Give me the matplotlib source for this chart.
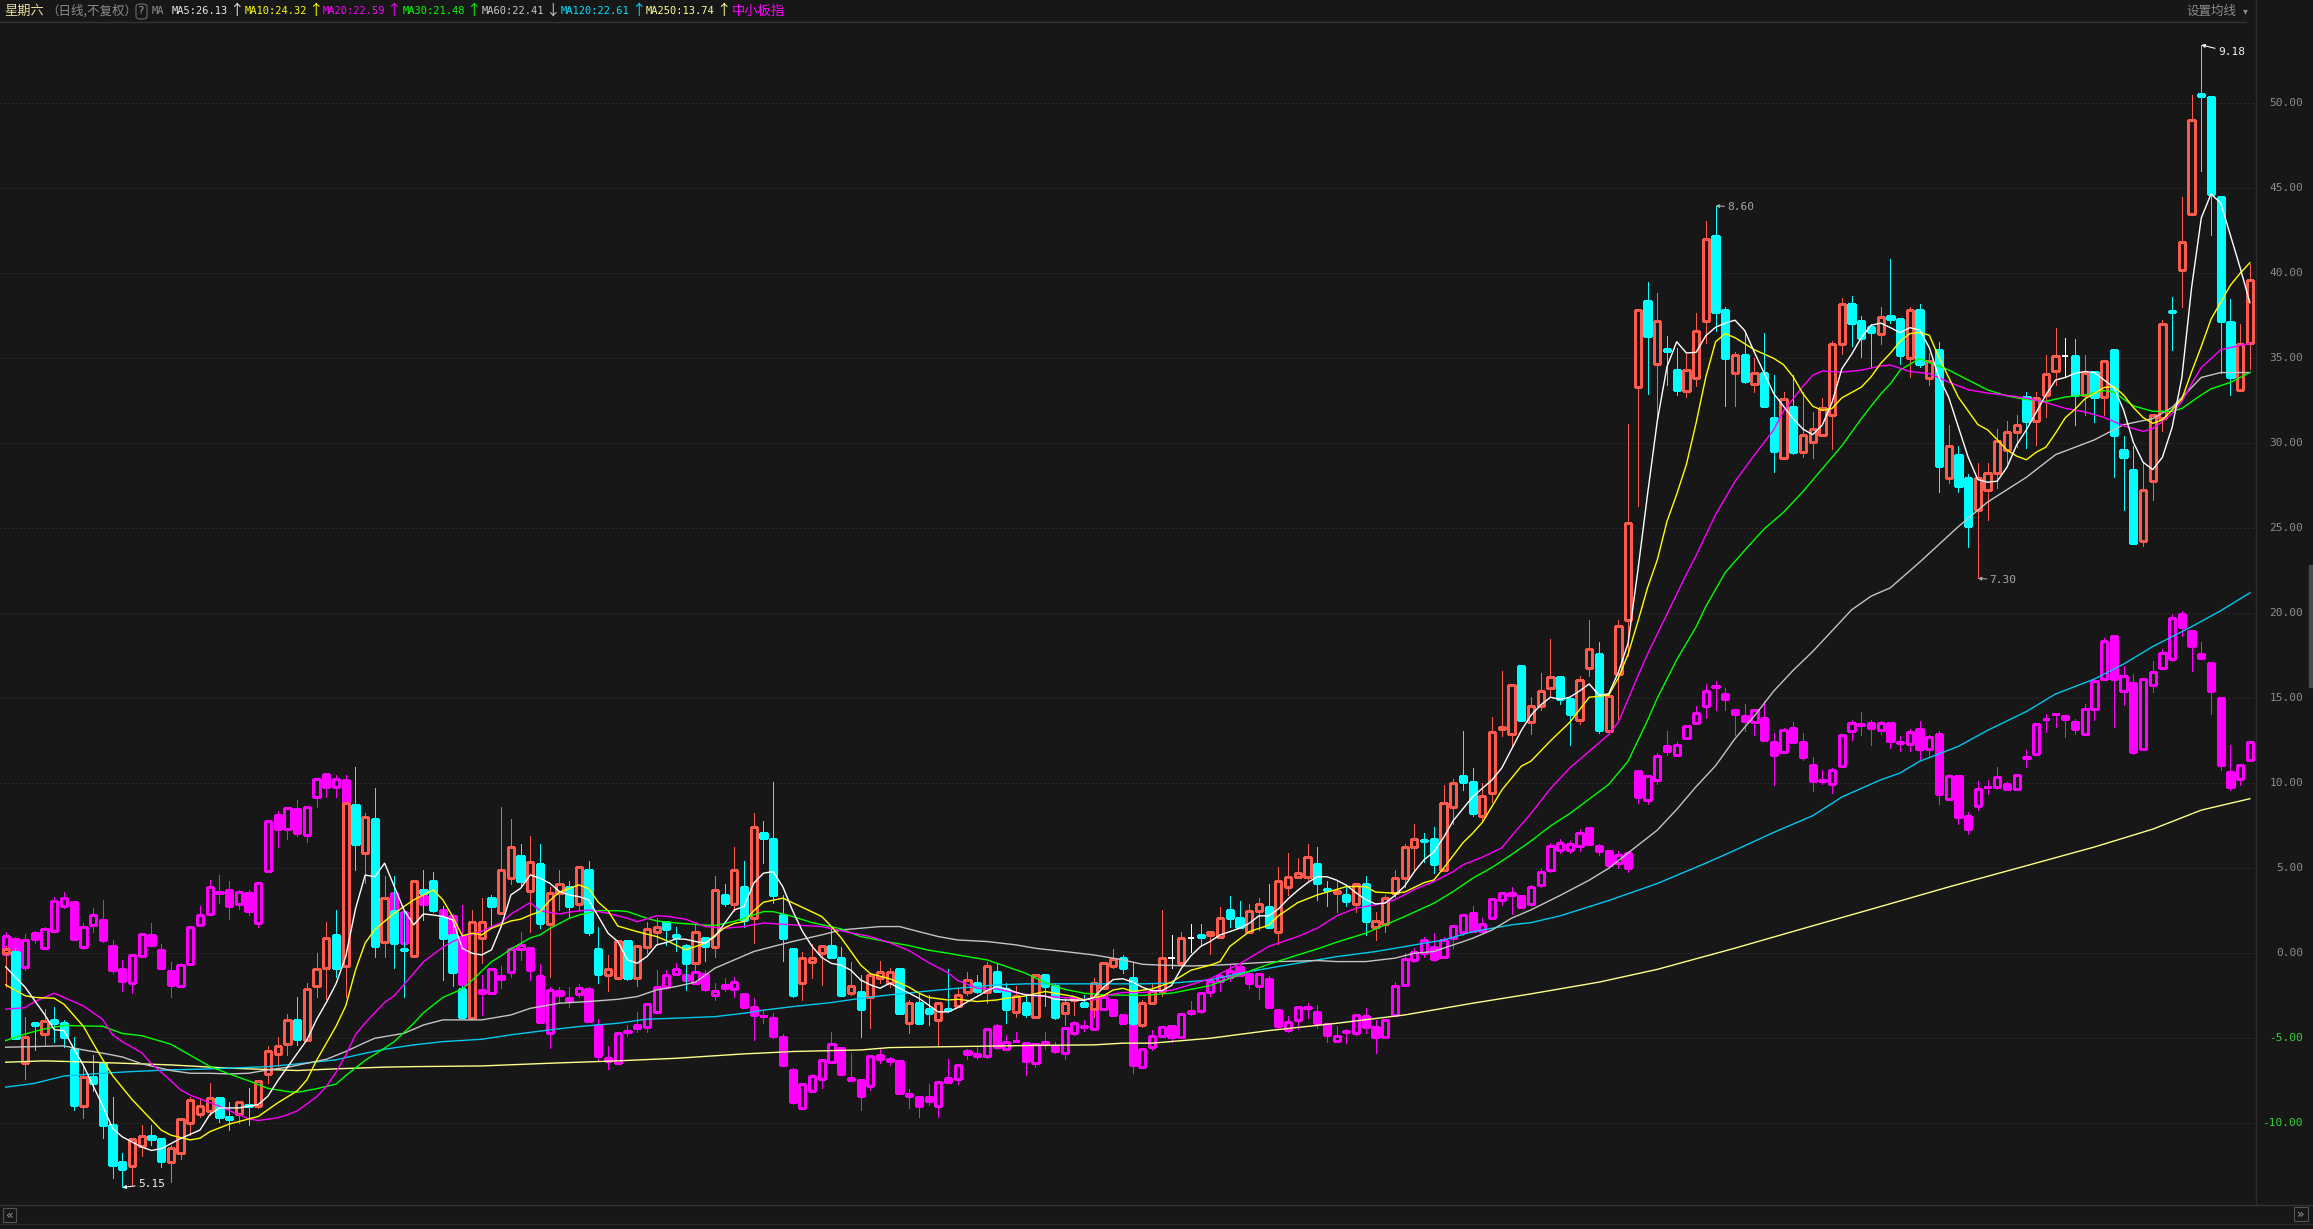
import numpy as np
import matplotlib
matplotlib.use('Agg')
import matplotlib.pyplot as plt
from matplotlib.patches import Rectangle, FancyBboxPatch
from matplotlib.transforms import blended_transform_factory

# ---- main stock, % change vs. base day ----
main_o = [0.0, 0.1, -6.47, -4.12, -4.78, -3.92, -4.12, -5.63, -8.96, -7.29,
          -6.43, -10.1, -12.29, -12.49, -11.33, -10.75, -10.92, -12.29, -11.76, -9.96,
          -9.47, -9.27, -8.49, -9.65, -9.47, -8.92, -8.96, -7.12, -5.94, -5.31,
          -3.92, -5.1, -1.92, -0.88, 1.08, -0.78, 8.73, 5.88, 7.88, 0.69,
          2.5, 0.24, -0.14, 3.73, 4.27, 2.06, 1.08, -2.12, -3.82, 0.88,
          3.24, 2.39, 4.41, 5.73, 3.69, 5.25, 1.73, 3.53, 3.88, 2.88,
          4.9, 0.24, -1.27, -1.47, 0.73, -1.47, 0.39, 1.22, 1.86, 1.08,
          0.43, -0.59, 0.88, 0.39, 3.43, 2.88, 3.88, 2.06, 7.06, 6.71,
          2.25, 0.24, -1.76, -0.49, 0.04, 0.43, -0.29, -2.31, -2.27, -2.59,
          -1.43, -1.76, -0.94, -4.12, -2.94, -3.27, -3.92, -3.29, -3.1, -2.29,
          -1.73, -2.29, -1.12, -2.12, -3.47, -2.9, -3.76, -1.27, -1.92, -3.49,
          -2.75, -2.9, -3.29, -2.06, -0.75, -0.29, -1.47, -4.22, -2.94, -2.25,
          -0.29, -0.59, 0.88, 1.08, 1.08, 0.98, 2.55, 2.06, 1.22, 2.51,
          2.71, 1.22, 3.88, 4.51, 4.51, 5.24, 3.78, 3.53, 3.43, 2.88,
          4.08, 1.53, 1.73, 3.53, 4.41, 6.22, 6.64, 6.71, 4.9, 8.59,
          10.43, 10.06, 8.08, 9.41, 13.2, 12.88, 16.9, 13.59, 14.57, 15.6,
          16.23, 14.94, 13.72, 16.77, 17.63, 13.06, 16.41, 19.58, 33.28, 38.34,
          34.67, 35.52, 34.3, 33.1, 33.84, 37.19, 42.2, 37.85, 34.13, 35.18,
          33.47, 34.13, 31.49, 29.12, 32.13, 29.49, 30.1, 30.46, 31.69, 35.84,
          38.17, 37.19, 36.82, 36.45, 37.51, 37.3, 34.99, 37.83, 33.81, 35.48,
          27.95, 29.33, 27.95, 26.1, 27.27, 28.24, 29.62, 30.65, 32.7, 31.29,
          32.84, 34.25, 35.13, 35.13, 32.84, 34.22, 32.7, 35.48, 29.62, 28.45,
          24.25, 27.77, 31.47, 37.78, 40.18, 43.49, 50.55, 50.38, 44.49, 37.16,
          33.14, 35.87]
main_c = [0.24, -5.0, -4.94, -4.2, -3.96, -4.08, -4.9, -8.92, -7.29, -7.61,
          -10.1, -12.45, -12.71, -10.92, -10.75, -10.9, -12.25, -11.47, -9.76, -8.63,
          -8.96, -8.49, -9.61, -9.73, -8.76, -8.96, -7.49, -5.76, -5.45, -3.92,
          -5.06, -2.12, -0.94, 0.88, -0.88, 8.86, 6.43, 8.04, 0.45, 3.24,
          0.59, 0.2, 4.22, 3.57, 2.55, 0.92, -1.08, -3.73, 1.86, 1.86,
          2.75, 4.9, 6.24, 4.27, 5.39, 1.76, 3.53, 4.06, 2.75, 5.06,
          1.27, -1.24, -0.94, 0.73, -1.47, 0.43, 1.41, 1.53, 1.43, 0.94,
          -0.55, 1.24, 0.43, 3.73, 2.94, 4.9, 1.96, 7.41, 6.76, 3.43,
          0.92, -2.45, -0.29, -0.29, 0.43, -0.25, -2.45, -1.92, -3.27, -1.27,
          -1.12, -1.12, -3.53, -2.94, -4.08, -3.53, -2.94, -3.33, -2.45, -1.57,
          -2.2, -0.78, -2.25, -3.27, -2.51, -3.57, -1.27, -1.9, -3.73, -2.94,
          -2.65, -3.1, -1.76, -0.59, -0.33, -0.88, -4.12, -2.94, -2.25, -0.29,
          -0.29, 0.88, 0.88, 0.94, 1.22, 2.06, 2.1, 1.57, 2.51, 2.88,
          1.57, 4.22, 4.51, 4.71, 5.69, 4.12, 3.7, 3.69, 3.1, 4.08,
          1.92, 1.9, 3.24, 4.41, 6.22, 6.71, 6.58, 5.25, 8.86, 10.04,
          10.1, 8.27, 9.25, 13.04, 13.28, 15.75, 13.74, 14.57, 15.43, 16.23,
          14.94, 14.08, 16.09, 17.92, 13.11, 15.11, 19.27, 25.28, 37.85, 36.33,
          37.19, 35.45, 33.15, 34.3, 36.63, 42.03, 37.73, 35.04, 35.18, 33.69,
          34.13, 32.18, 29.54, 32.62, 29.49, 30.46, 30.83, 32.05, 35.84, 38.17,
          37.07, 36.21, 36.53, 37.43, 37.31, 35.19, 37.83, 34.69, 34.81, 28.68,
          29.82, 27.48, 25.13, 27.95, 28.24, 30.12, 30.65, 31.09, 31.32, 32.64,
          34.1, 35.13, 35.13, 32.84, 34.16, 32.7, 34.81, 30.5, 29.18, 24.13,
          27.27, 31.67, 37.04, 37.7, 41.85, 49.03, 50.45, 44.66, 37.18, 33.87,
          35.84, 39.59]
main_h = [0.4, 0.3, -3.76, -4.12, -3.29, -3.14, -3.92, -4.94, -6.63, -5.98,
          -6.27, -8.47, -11.76, -10.92, -10.1, -10.1, -10.92, -11.27, -9.76, -8.47,
          -8.53, -7.65, -8.43, -8.76, -8.73, -7.94, -7.49, -5.45, -4.9, -3.57,
          -2.59, -1.73, 0.04, 1.86, 2.55, 8.86, 10.94, 8.24, 9.71, 4.55,
          4.55, 2.55, 4.22, 4.9, 4.75, 2.75, 1.76, -1.9, 2.55, 3.24,
          3.43, 8.63, 7.9, 6.43, 6.9, 6.43, 3.92, 4.9, 4.27, 5.06,
          5.43, 1.57, -0.1, 0.73, 0.73, 0.43, 1.86, 2.06, 1.86, 1.57,
          0.55, 1.76, 0.88, 4.55, 4.08, 6.24, 5.45, 8.27, 7.75, 10.1,
          3.43, 0.24, 0.1, 0.53, 0.43, 1.57, 0.39, -0.49, -1.27, -1.27,
          -0.45, -0.88, -0.94, -2.75, -2.35, -2.45, -2.94, -0.94, -2.06, -1.12,
          -1.27, -0.49, -0.59, -1.76, -1.92, -2.45, -1.27, -1.27, -1.76, -2.65,
          -2.55, -2.45, -1.47, -0.59, 0.25, -0.1, -0.55, -2.75, -1.76, 2.55,
          1.08, 1.22, 1.73, 1.73, 1.22, 2.71, 3.39, 3.08, 2.88, 3.24,
          4.08, 5.06, 5.88, 5.59, 6.43, 6.24, 4.22, 4.22, 3.92, 4.08,
          4.55, 2.43, 3.43, 4.9, 6.43, 7.61, 7.06, 7.41, 9.9, 10.24,
          13.08, 10.88, 10.04, 13.88, 16.61, 15.75, 16.9, 15.06, 16.48, 18.48,
          16.23, 14.94, 16.28, 19.63, 18.29, 15.11, 19.63, 31.12, 37.85, 39.51,
          38.83, 36.33, 35.6, 35.23, 37.68, 43.06, 43.96, 38.0, 35.35, 36.53,
          34.99, 36.5, 34.01, 33.03, 34.01, 33.03, 31.81, 32.67, 36.04, 38.53,
          38.66, 37.51, 37.02, 37.99, 40.86, 37.3, 38.04, 38.21, 35.28, 35.98,
          31.09, 29.82, 28.21, 28.83, 28.83, 30.85, 31.29, 31.67, 32.99, 32.99,
          35.19, 36.8, 36.22, 36.16, 35.19, 34.22, 34.81, 35.48, 30.41, 29.82,
          28.83, 31.67, 37.24, 38.62, 44.49, 50.5, 53.43, 50.38, 44.49, 38.48,
          37.01, 40.53]
main_l = [-1.96, -5.0, -7.41, -5.69, -5.41, -5.25, -5.53, -9.25, -9.71, -8.08,
          -10.88, -13.24, -13.78, -13.63, -11.92, -11.27, -12.59, -13.43, -12.12, -10.69,
          -9.61, -9.51, -9.9, -10.39, -9.96, -10.1, -9.12, -7.65, -6.63, -5.98,
          -5.39, -5.16, -2.55, -2.71, -1.37, -2.55, 4.9, 4.12, -0.24, -0.24,
          -0.88, -2.55, -0.24, 1.96, 2.45, -1.57, -1.92, -3.8, -3.88, -0.59,
          1.47, 2.3, 4.1, 3.96, 1.27, 1.47, -1.41, 2.55, 2.12, 2.55,
          1.08, -1.73, -2.25, -1.47, -1.57, -1.92, 0.0, 0.49, 0.49, 0.16,
          -2.16, -1.08, -0.45, -0.24, 2.75, 2.51, 1.57, 0.59, 5.29, 2.94,
          -0.45, -2.55, -2.75, -1.47, -1.86, -0.25, -2.45, -2.45, -4.9, -4.41,
          -1.73, -1.96, -3.53, -4.71, -4.08, -4.25, -5.45, -3.43, -3.1, -2.45,
          -2.35, -2.9, -2.25, -4.08, -3.73, -3.73, -3.76, -3.1, -3.88, -4.22,
          -3.63, -3.14, -3.73, -2.12, -0.88, -1.18, -4.2, -4.31, -2.94, -2.51,
          -0.88, -0.59, 0.1, 0.49, -0.06, 0.94, 1.57, 1.57, 1.22, 1.37,
          1.57, 0.55, 3.43, 4.41, 4.31, 3.14, 2.75, 2.45, 2.75, 2.45,
          1.08, 0.75, 1.27, 3.33, 3.92, 4.9, 5.39, 4.71, 4.9, 7.61,
          9.61, 8.08, 7.75, 8.92, 12.75, 12.16, 13.67, 12.91, 14.28, 15.06,
          14.69, 12.25, 13.47, 16.28, 12.98, 12.98, 13.79, 17.51, 26.31, 32.91,
          31.32, 33.4, 32.86, 32.71, 33.35, 35.89, 36.58, 32.18, 32.18, 33.52,
          33.03, 32.18, 28.31, 29.12, 29.36, 29.19, 29.12, 30.42, 29.68, 35.23,
          35.72, 35.06, 34.5, 35.84, 37.07, 34.69, 33.87, 34.46, 33.43, 27.13,
          27.65, 27.13, 23.9, 22.05, 25.51, 27.36, 28.83, 29.77, 29.71, 29.91,
          31.52, 33.43, 33.87, 31.09, 31.67, 31.23, 31.67, 28.0, 26.1, 24.13,
          23.96, 26.69, 30.7, 35.48, 38.04, 43.4, 46.04, 42.23, 34.16, 32.84,
          33.14, 34.37]

# ---- 中小板指 overlay, % change ----
idx_o = [-0.04, 0.82, -0.82, 1.18, 0.33, 1.33, 2.75, 3.0, 0.39, 1.69,
         1.94, 0.43, -0.94, -1.73, -0.14, 1.1, 0.2, -1.04, -1.9, -0.65,
         1.65, 2.29, 3.55, 3.71, 2.88, 3.53, 1.76, 4.86, 8.14, 7.29,
         8.47, 6.94, 9.18, 10.55, 9.76, 10.2, 8.6, 7.0, 7.6, 2.9,
         3.53, 0.59, 2.3, 3.37, 3.0, 2.55, 2.2, 0.98, -1.9, -2.16,
         -2.35, -1.33, -1.08, 0.27, 0.29, -1.33, -4.67, -2.2, -2.8, -2.41,
         -2.12, -4.22, -6.18, -6.47, -4.6, -4.41, -4.35, -3.43, -1.96, -1.22,
         -1.27, -1.73, -1.24, -2.45, -2.04, -2.12, -2.39, -3.18, -3.67, -3.82,
         -4.94, -6.86, -9.12, -8.08, -7.41, -6.37, -5.55, -7.31, -7.45, -7.8,
         -5.98, -6.35, -6.33, -8.39, -8.47, -8.47, -8.98, -7.35, -7.39, -5.94,
         -5.92, -6.02, -4.27, -5.65, -5.16, -5.29, -6.47, -5.35, -5.43, -5.84,
         -4.67, -4.33, -4.47, -3.29, -2.75, -3.63, -4.1, -6.67, -5.53, -4.86,
         -4.27, -4.94, -3.53, -3.37, -2.29, -1.61, -1.41, -0.82, -1.22, -1.9,
         -1.53, -3.33, -4.51, -3.92, -3.22, -3.43, -4.16, -5.14, -4.66, -4.71,
         -3.67, -4.35, -4.9, -3.63, -1.86, -0.39, 0.0, 0.39, -0.2, 0.88,
         1.27, 2.35, 1.33, 2.06, 3.14, 3.57, 3.37, 2.9, 4.0, 4.9,
         6.1, 6.1, 6.3, 7.35, 6.3, 6.0, 5.3, 5.9, 10.71, 9.0,
         10.17, 12.18, 11.69, 12.67, 13.55, 14.57, 15.7, 15.23, 14.33, 13.96,
         13.59, 13.84, 12.42, 11.83, 13.23, 12.42, 11.1, 10.2, 9.93, 11.03,
         13.06, 13.49, 13.55, 13.15, 13.55, 12.42, 12.32, 13.2, 12.02, 12.9,
         9.09, 10.41, 8.1, 8.65, 9.79, 9.77, 9.97, 9.68, 11.54, 11.73,
         13.8, 14.1, 13.93, 13.58, 12.9, 14.37, 16.13, 18.68, 15.4, 15.92,
         12.02, 15.75, 16.8, 17.3, 19.94, 18.97, 17.6, 17.1, 15.04, 10.65,
         10.26, 11.35]
idx_c = [1.02, 0.1, 0.75, 0.84, 1.41, 3.06, 3.25, 0.84, 1.57, 2.24,
         0.75, -0.96, -1.63, -0.12, 1.12, 0.49, -0.84, -1.86, -0.71, 1.53,
         2.24, 3.92, 3.63, 2.8, 3.59, 2.49, 4.12, 7.76, 7.31, 8.53,
         7.06, 8.59, 10.24, 9.76, 10.24, 8.86, 7.0, 7.8, 4.5, 1.5,
         2.45, 2.45, 3.0, 2.9, 3.6, 2.06, 1.08, -1.8, -1.2, -2.31,
         -0.94, -1.49, 0.24, 0.47, -0.98, -4.02, -2.16, -2.45, -2.65, -2.02,
         -3.96, -6.02, -6.31, -4.71, -4.63, -4.22, -3.0, -2.0, -1.27, -0.94,
         -1.57, -1.12, -2.12, -2.22, -1.88, -1.67, -3.14, -3.63, -3.71, -4.86,
         -6.57, -8.78, -7.71, -7.22, -6.27, -5.35, -7.1, -7.45, -8.37, -6.04,
         -6.24, -6.24, -8.2, -8.27, -8.96, -8.67, -7.55, -7.55, -6.57, -5.78,
         -6.04, -4.47, -5.53, -5.24, -5.14, -6.31, -5.35, -5.24, -5.78, -4.41,
         -4.12, -4.29, -3.29, -2.55, -3.63, -4.08, -6.57, -5.65, -4.84, -4.31,
         -4.94, -3.59, -3.39, -2.35, -1.61, -1.33, -1.02, -1.27, -1.73, -1.22,
         -3.18, -4.27, -4.02, -3.18, -3.18, -4.08, -4.8, -4.86, -4.6, -3.63,
         -4.35, -4.9, -3.92, -1.9, -0.35, 0.1, 0.78, -0.35, 0.78, 1.63,
         2.22, 1.33, 1.71, 3.18, 3.53, 3.43, 2.71, 3.9, 4.8, 6.3,
         6.5, 6.4, 7.1, 6.45, 6.0, 5.2, 5.8, 5.0, 9.19, 10.42,
         11.59, 11.88, 12.25, 13.35, 14.13, 15.43, 15.64, 14.94, 14.08, 13.64,
         14.28, 12.57, 11.64, 13.11, 12.42, 11.52, 10.12, 10.15, 10.78, 12.81,
         13.55, 13.45, 13.23, 13.55, 12.5, 12.38, 12.99, 12.02, 12.7, 9.38,
         10.41, 8.0, 7.3, 9.68, 9.75, 10.35, 9.68, 10.47, 11.5, 13.49,
         13.76, 14.06, 13.78, 13.2, 14.37, 16.04, 18.39, 16.13, 16.33, 11.82,
         16.13, 16.57, 17.68, 19.74, 19.21, 18.09, 17.39, 15.45, 11.06, 9.77,
         11.06, 12.4]
idx_h = [1.27, 0.98, 1.14, 1.33, 1.57, 3.33, 3.59, 3.06, 1.76, 2.67,
         3.14, 0.78, -0.39, -0.08, 1.18, 1.8, 0.55, -0.51, -0.59, 1.57,
         2.75, 4.31, 4.61, 4.27, 3.73, 3.73, 4.12, 7.76, 8.39, 8.57,
         9.02, 8.59, 10.24, 10.55, 10.49, 10.49, 8.7, 8.0, 7.9, 3.1,
         3.9, 2.45, 3.2, 3.9, 3.8, 2.7, 2.3, 2.84, -0.9, -1.27,
         -0.9, -0.78, 0.39, 1.27, 0.29, -0.63, -1.96, -1.96, -1.96, -1.8,
         -2.0, -3.88, -5.45, -4.71, -4.22, -3.43, -3.0, -0.98, -0.98, -0.6,
         -1.1, -0.98, -0.98, -1.76, -1.47, -1.37, -2.39, -2.65, -3.33, -3.5,
         -4.75, -6.76, -7.71, -7.1, -6.27, -4.65, -5.55, -5.84, -7.45, -5.98,
         -5.65, -6.08, -6.33, -8.0, -8.47, -7.69, -7.55, -6.24, -6.57, -5.65,
         -5.49, -4.41, -4.18, -4.8, -4.61, -5.29, -5.35, -4.65, -5.24, -4.41,
         -3.96, -3.92, -3.29, -2.55, -2.75, -3.63, -4.1, -5.59, -4.51, -4.31,
         -4.27, -3.59, -2.8, -2.35, -1.61, -1.22, -0.63, -0.69, -1.02, -1.22,
         -1.33, -3.33, -3.69, -3.18, -2.94, -3.04, -4.16, -4.27, -4.47, -3.59,
         -3.24, -3.92, -3.92, -1.67, 0.0, 0.29, 0.98, 1.18, 0.98, 1.63,
         2.22, 2.78, 2.06, 3.24, 3.53, 3.92, 3.37, 4.0, 5.0, 6.5,
         6.7, 6.6, 7.3, 7.4, 6.4, 6.1, 6.0, 6.0, 10.71, 10.5,
         11.76, 13.06, 12.42, 13.4, 14.52, 15.84, 16.04, 15.6, 14.33, 14.69,
         14.28, 14.82, 12.98, 13.23, 13.59, 12.98, 11.52, 10.78, 10.9, 12.81,
         13.72, 14.21, 13.72, 13.64, 13.55, 12.76, 13.2, 13.64, 12.82, 13.05,
         10.56, 10.5, 8.3, 10.12, 10.18, 10.94, 10.1, 10.56, 11.94, 13.55,
         14.08, 14.16, 13.93, 13.78, 14.66, 16.13, 18.56, 18.68, 16.92, 16.42,
         16.22, 17.21, 17.89, 19.94, 20.15, 18.97, 18.33, 17.1, 15.04, 12.23,
         11.06, 12.4]
idx_l = [-0.04, 0.0, -0.98, 0.63, 0.27, 1.27, 2.65, 0.76, 0.27, 1.27,
         0.69, -1.18, -2.25, -2.31, -0.2, 0.43, -0.88, -2.55, -1.92, -0.71,
         1.61, 2.24, 2.94, 2.0, 2.63, 2.25, 1.53, 4.86, 6.24, 6.73,
         6.92, 6.57, 8.63, 9.22, 9.18, 8.7, 6.6, 6.5, 4.0, 0.9,
         2.3, 0.5, 2.0, 1.96, 2.8, 2.0, 1.0, -2.0, -2.5, -3.63,
         -2.4, -2.02, -1.37, -0.39, -1.57, -4.02, -5.59, -2.94, -3.14, -2.55,
         -4.0, -6.27, -6.8, -6.47, -4.86, -4.61, -4.61, -3.53, -2.12, -1.3,
         -1.7, -1.8, -2.25, -2.75, -2.25, -2.55, -3.24, -5.1, -4.08, -4.96,
         -6.63, -8.86, -9.12, -8.16, -7.94, -6.37, -7.16, -7.45, -9.22, -8.04,
         -6.47, -6.59, -8.27, -9.12, -9.65, -8.92, -9.61, -7.61, -7.69, -6.24,
         -6.24, -6.18, -5.61, -5.65, -5.2, -7.16, -6.67, -5.65, -5.84, -6.24,
         -4.8, -4.55, -4.47, -3.33, -3.69, -4.12, -7.06, -6.71, -5.69, -4.94,
         -5.2, -4.94, -3.63, -3.53, -2.49, -2.25, -1.63, -1.33, -2.06, -2.69,
         -3.18, -4.47, -4.61, -4.47, -3.82, -4.41, -5.25, -5.2, -5.29, -4.8,
         -4.67, -5.84, -4.9, -3.63, -1.92, -0.49, -0.2, -0.43, -0.24, 0.29,
         1.08, 1.27, 1.27, 2.0, 2.84, 2.31, 2.65, 2.8, 3.9, 4.8,
         5.9, 5.9, 6.0, 6.4, 5.8, 5.0, 5.0, 4.8, 8.83, 8.8,
         9.93, 11.64, 11.59, 12.62, 13.47, 13.84, 14.33, 14.28, 12.86, 13.06,
         12.81, 12.57, 9.88, 11.76, 12.37, 11.39, 9.56, 9.93, 9.44, 10.95,
         12.57, 12.86, 12.25, 12.91, 12.08, 11.88, 11.88, 11.44, 11.58, 8.8,
         9.0, 7.6, 7.0, 8.4, 9.38, 9.68, 9.6, 9.59, 10.94, 11.64,
         12.99, 13.29, 12.7, 12.9, 12.82, 13.7, 16.13, 13.29, 14.58, 11.73,
         12.02, 15.34, 16.72, 17.21, 18.68, 16.63, 17.3, 14.08, 10.76, 9.59,
         9.88, 11.29]

# ---- moving averages (sample day, value) ----
ma5_day = [0, 2, 4, 5, 6, 7, 8, 10, 11, 12, 14, 15, 16, 18, 20, 21, 22, 24, 26, 27, 28, 30, 31, 32, 33, 34, 35, 36, 37, 38,
           39, 40, 41, 42, 43, 44, 45, 46, 47, 48, 49, 50, 51, 52, 53, 54, 55, 56, 57, 58, 59, 60, 61, 62, 63, 64, 65, 66, 67, 68,
           69, 70, 71, 72, 73, 74, 75, 76, 77, 78, 79, 80, 81, 82, 83, 84, 85, 86, 87, 88, 89, 90, 91, 92, 93, 94, 95, 96, 97, 98,
           99, 100, 101, 102, 103, 104, 105, 106, 107, 108, 109, 110, 111, 112, 113, 114, 115, 116, 117, 118, 119, 120, 121, 122,
           123, 124, 125, 126, 127, 128, 129, 130, 131, 132, 133, 134, 135, 136, 137, 138, 139, 140, 141, 142, 143, 144, 145, 146,
           147, 148, 149, 150, 151, 152, 153, 154, 155, 156, 157, 158, 159, 160, 161, 162, 163, 164, 165, 166, 167, 168, 169, 170,
           171, 172, 173, 174, 175, 176, 177, 178, 179, 180, 181, 182, 183, 184, 185, 186, 187, 188, 189, 190, 191, 192, 193, 194,
           195, 196, 197, 198, 199, 200, 201, 202, 203, 204, 205, 206, 207, 208, 209, 210, 211, 212, 213, 214, 215, 216, 217, 218,
           219, 220, 221, 222, 223, 224, 225, 226, 227, 228, 229, 230, 231]
ma5_val = [-0.8, -2.0, -3.6, -4.5, -4.55, -5.6, -6.6, -9.0, -10.3, -10.8, -11.4, -11.6, -11.5, -10.9, -10.4, -9.5, -9.1, -9.1,
           -8.9, -8.4, -7.5, -5.9, -5.1, -3.9, -2.9, -1.8, -0.2, 2.6, 4.6, 4.5,
           5.3, 3.92, 2.55, 1.67, 2.31, 2.25, 2.16, 1.96, 0.29, 0.0, -0.1, 0.2, 1.57, 3.43, 3.82, 4.61, 4.41, 4.12, 3.63, 3.43,
           3.33, 3.14, 2.16, 1.18, 0.69, -0.39, -0.59, -0.2, 0.49, 0.63,
           0.85, 0.82, 0.69, 0.59, 0.98, 1.76, 2.55, 2.75, 4.12, 4.71, 4.8, 3.9, 2.5, 1.3, 0.4, -0.25, -0.6, -0.7, -1.0, -1.57,
           -1.86, -2.06, -1.76, -2.06, -2.35, -2.65, -3.05, -3.45, -3.45, -3.2,
           -2.85, -2.55, -2.2, -1.96, -2.1, -2.3, -2.45, -2.48, -2.52, -2.7, -2.75, -2.75, -2.77, -2.6, -2.0, -1.55, -1.5, -1.7,
           -2.0, -2.2, -2.2, -1.9, -0.9, -0.15,
           0.4, 0.7, 1.08, 1.27, 1.47, 1.76, 2.2, 2.2, 2.6, 3.2, 3.7, 4.15, 4.5, 4.5, 4.3, 4.0, 3.55, 3.15, 2.9, 2.95, 3.4, 3.95,
           4.8, 5.5,
           5.95, 6.8, 7.8, 8.5, 9.2, 9.7, 10.2, 10.9, 12.0, 13.1, 14.0, 14.6, 15.06, 14.94, 15.06, 15.43, 15.84, 15.18, 15.26,
           16.53, 18.24, 22.5, 27.0, 31.3,
           34.5, 35.97, 35.31, 35.35, 36.33, 36.82, 37.07, 37.24, 36.63, 35.35, 34.13, 32.91, 32.18, 31.44, 30.83, 30.51, 31.08,
           32.42, 34.38, 35.23, 36.21, 36.94, 37.07, 36.8,
           36.51, 36.8, 36.66, 35.63, 33.87, 32.7, 30.94, 29.18, 27.86, 27.71, 27.77, 28.59, 29.91, 30.79, 31.82, 32.84, 33.72,
           33.87, 34.11, 34.22, 34.16, 33.72, 33.28, 31.96,
           30.06, 28.89, 28.45, 29.18, 30.94, 33.87, 39.15, 43.26, 44.66, 44.13, 42.23, 40.32, 38.27]

ma10_day = [0, 2, 3, 5, 6, 8, 9, 10, 11, 13, 15, 16, 17, 19, 20, 21, 23, 24, 26, 27, 28, 30, 31, 32, 34, 35, 36, 37, 38, 40,
            41, 42, 43, 44, 45, 46, 47, 48, 49, 50, 52, 53, 54, 55, 56, 57, 59, 60, 61, 62, 63, 65, 67, 68, 70, 71, 72, 74, 75,
            76, 77, 78, 80, 82, 84, 85, 86, 88, 89, 91, 93, 94, 95, 97, 98, 100, 102, 103, 105, 107, 108, 110, 111, 113, 114,
            115, 116, 118, 120, 122, 124, 125, 126, 128, 130, 131, 133, 135, 137, 138, 140, 141, 143, 144, 146, 147, 148, 150,
            151, 152, 154, 155, 156, 157, 159, 161, 163, 165, 166, 167, 168, 169, 170, 171, 172, 173, 174, 175, 176, 177, 178,
            180, 182, 183, 184, 185, 186, 187, 188, 189, 191, 192, 193, 194, 195, 196, 197, 198, 199, 200, 201, 202, 203, 204,
            205, 206, 207, 208, 209, 210, 211, 212, 213, 214, 216, 217, 218, 219, 220, 221, 222, 223, 224, 225, 226, 227, 228,
            229, 230, 231]
ma10_val = [-1.86, -2.5, -2.6, -2.65, -3.0, -4.3, -5.3, -6.27, -7.2, -8.6, -9.8, -10.4, -10.7, -10.98, -10.88, -10.5, -10.05,
            -9.9, -9.6, -9.2, -8.8, -8.1, -7.45, -6.3, -4.3, -3.1, -1.0, 0.6, 1.4, 2.35,
            2.75, 3.14, 3.43, 3.73, 3.14, 2.16, 1.02, 1.18, 1.08, 1.47, 1.9, 2.0, 2.25, 2.45, 3.1, 3.6, 4.02, 3.8, 3.0, 2.5, 1.6,
            1.27, 0.98, 0.75, 0.2, 0.39, 0.6, 1.5, 1.76,
            1.86, 2.5, 3.0, 3.24, 2.7, 2.16, 1.57, 0.9, -0.69, -1.2, -1.5, -2.0, -2.35, -2.6, -2.75, -2.71, -2.84, -2.75, -2.65,
            -2.51, -2.25, -2.35, -2.55, -2.75, -2.5, -2.16,
            -2.06, -2.25, -2.1, -1.7, -1.0, -0.7, -0.49, 0.4, 1.27, 1.65, 2.2, 2.98, 3.43, 3.75, 3.92, 3.92, 3.6, 3.53, 3.6, 4.15,
            4.31, 5.0, 6.5,
            7.06, 7.7, 9.6, 10.3, 11.0, 11.3, 12.49, 13.59, 15.06, 15.18, 16.2, 17.6, 19.5, 21.5, 23.13, 25.4, 27.0, 28.75, 31.2,
            33.9, 35.97, 36.45, 36.21,
            35.5, 34.99, 34.62, 33.9, 32.91, 32.18, 31.93, 32.05, 32.67, 33.3, 33.9, 34.7, 35.3, 36.0, 36.45, 36.51, 36.36, 35.04,
            33.87, 32.7, 31.9, 31.1, 30.79,
            30.21, 29.6, 29.24, 29.03, 29.47, 29.77, 30.6, 31.5, 32.0, 32.6, 33.28, 33.34, 32.84, 32.11, 31.52, 31.17, 31.38,
            31.96, 32.6, 34.2, 35.7, 37.3, 38.3,
            39.3, 40.0, 40.62]

ma20_day = [0, 2, 3, 5, 6, 8, 10, 11, 12, 14, 15, 17, 18, 19, 21, 22, 23, 25, 26, 28, 29, 30, 32, 33, 34, 35, 36, 37, 38, 39,
            40, 42, 43, 45, 46, 47, 49, 51, 52, 54, 55, 57, 58, 60, 62, 64, 65, 67, 68, 70, 72, 74, 76, 78, 81, 84, 87, 89, 91,
            93, 95, 97, 98, 100, 102, 104, 106, 108, 110, 112, 113, 115, 117, 120, 124, 127, 130, 133, 135, 137, 139, 141, 143,
            145, 147, 149, 150, 152, 154, 155, 157, 159, 161, 163, 165, 166, 168, 169, 171, 173, 174, 176, 178, 180, 182, 183,
            185, 186, 187, 189, 191, 193, 194, 196, 198, 200, 202, 204, 206, 208, 210, 212, 214, 216, 218, 220, 221, 223, 224,
            225, 226, 228, 229, 230, 231]
ma20_val = [-3.29, -3.2, -2.84, -2.35, -2.6, -3.1, -3.9, -4.8, -5.2, -5.85, -6.5, -7.5, -8.04, -8.35, -8.78, -9.0, -9.25,
            -9.74, -9.84, -9.68, -9.5, -9.28, -8.45, -7.84, -7.0, -6.0, -4.8, -4.1, -3.5, -2.9,
            -2.5, -1.18, -0.5, 0.35, 0.69, 0.92, 1.3, 1.8, 2.3, 2.98, 2.5, 2.31, 2.42, 2.55, 2.35, 2.06, 1.85, 2.2, 2.18, 2.0,
            1.57, 1.47, 1.57, 1.78, 1.67, 1.57, 1.2, 0.98, 0.62,
            0.15, -0.55, -1.15, -1.6, -2.06, -2.1, -2.33, -2.51, -2.57, -2.65, -2.75, -2.5, -2.31, -2.31, -2.18, -1.5, -0.62,
            0.4, 0.98, 1.47, 2.2, 2.65, 2.85, 3.14,
            3.75, 4.22, 4.8, 5.2, 5.65, 6.2, 6.9, 8.22, 9.68, 10.9, 11.88, 12.86, 13.6, 16.3, 17.6, 19.95, 22.3, 23.4, 25.8,
            27.75, 29.3, 30.8, 31.9,
            33.35, 34.0, 34.25, 34.18, 34.3, 34.55, 34.6, 34.22, 34.1, 33.6, 33.15, 32.95, 32.82, 32.65, 32.4, 32.05, 31.85,
            31.52, 31.03, 30.7, 30.85, 31.75, 32.45,
            33.5, 34.45, 35.5, 35.63, 35.75, 35.87]

ma30_day = [0, 2, 4, 6, 10, 12, 14, 17, 19, 21, 23, 25, 27, 29, 30, 32, 34, 35, 37, 38, 40, 42, 43, 45, 47, 48, 50, 51, 52,
            54, 55, 56, 58, 59, 61, 63, 64, 66, 67, 69, 72, 73, 75, 76, 78, 79, 81, 83, 86, 88, 91, 93, 95, 97, 99, 101, 103,
            105, 107, 109, 111, 113, 117, 120, 124, 127, 130, 133, 135, 137, 140, 142, 144, 147, 149, 151, 153, 155, 157, 159,
            161, 163, 165, 167, 169, 170, 172, 174, 175, 177, 179, 181, 183, 185, 187, 189, 191, 193, 194, 195, 197, 198, 200,
            202, 204, 206, 208, 210, 212, 214, 216, 217, 219, 221, 223, 224, 226, 227, 229, 231]
ma30_val = [-5.14, -4.75, -4.45, -4.25, -4.3, -4.72, -4.85, -5.35, -6.0, -6.65, -7.1, -7.5, -7.95, -8.14, -8.18, -7.97, -7.7,
            -7.2, -6.3, -5.95, -5.2, -4.12, -3.5, -2.6, -2.1, -1.6, -0.5, -0.15, 0.25,
            0.9, 1.08, 1.45, 2.05, 2.25, 2.51, 2.5, 2.45, 2.06, 1.9, 1.78, 1.65, 1.63, 1.88, 2.06, 2.45, 2.45, 2.16, 1.8, 1.43,
            0.98, 0.65, 0.45, 0.18, 0.0, -0.2, -0.39, -0.78,
            -1.18, -1.72, -2.12, -2.35, -2.45, -2.48, -2.35, -1.9, -1.27, -0.65, -0.1, 0.25, 0.65, 1.18, 1.67, 2.16, 2.94, 3.63,
            4.41, 5.05, 5.8, 6.6, 7.48,
            8.22, 9.07, 9.93, 11.3, 13.7, 15.0, 17.26, 19.2, 20.4, 22.4, 23.7, 24.96, 25.94, 27.16, 28.51, 29.85, 31.44, 32.9,
            33.5, 34.3, 34.99, 34.75, 34.31,
            33.72, 33.14, 32.78, 32.57, 32.46, 32.72, 32.84, 33.1, 33.0, 32.2, 31.88, 31.88, 32.05, 32.84, 33.2, 33.58, 34.16]

ma60_day = [0, 3, 6, 8, 10, 12, 14, 17, 19, 21, 23, 25, 27, 29, 31, 33, 35, 37, 38, 41, 43, 45, 49, 52, 54, 57, 60, 63, 65,
            67, 69, 71, 73, 75, 77, 79, 81, 84, 86, 88, 90, 92, 94, 96, 98, 101, 104, 106, 109, 112, 115, 117, 119, 122, 125,
            128, 131, 135, 137, 140, 143, 145, 147, 149, 151, 153, 155, 157, 160, 163, 165, 167, 170, 172, 174, 176, 178, 180,
            182, 184, 186, 188, 190, 192, 194, 197, 201, 204, 208, 211, 215, 218, 221, 223, 225, 226, 228, 231]
ma60_val = [-5.53, -5.49, -5.45, -5.69, -5.88, -6.1, -6.5, -6.9, -7.06, -7.06, -7.1, -7.06, -6.86, -6.71, -6.47, -6.24, -5.78,
            -5.25, -5.0, -4.71, -4.22, -3.92, -3.92, -3.63, -3.24, -2.94, -2.84, -2.71, -2.55,
            -2.16, -1.96, -1.7, -0.88, -0.39, 0.1, 0.4, 0.69, 1.08, 1.37, 1.47, 1.57, 1.57, 1.27, 0.98, 0.78, 0.69, 0.49, 0.29,
            0.1, -0.1, -0.39, -0.65, -0.7, -0.75, -0.69,
            -0.59, -0.49, -0.43, -0.49, -0.49, -0.29, 0.0, 0.1, 0.49, 0.88, 1.37, 2.06, 2.55, 3.4, 4.3, 5.0, 5.9, 7.24, 8.46,
            9.8, 11.03, 12.62, 13.96,
            15.43, 16.65, 17.75, 18.97, 20.2, 21.0, 21.5, 23.0, 25.1, 26.54, 28.0, 29.33, 30.2, 31.09, 31.45, 32.11, 33.28,
            33.87, 34.16, 34.16]

ma120_day = [0, 3, 6, 10, 13, 17, 20, 23, 27, 30, 34, 37, 39, 42, 45, 49, 52, 56, 59, 63, 66, 69, 73, 76, 78, 81, 85, 88,
             91, 95, 98, 102, 105, 117, 120, 124, 127, 131, 134, 137, 141, 144, 148, 151, 155, 157, 160, 165, 170, 175, 178,
             182, 186, 189, 193, 195, 197, 201, 204, 208, 211, 215, 218, 221, 225, 228, 231]
ma120_val = [-7.88, -7.65, -7.22, -7.06, -6.96, -6.86, -6.82, -6.76, -6.67, -6.51, -6.27, -5.88, -5.65, -5.39, -5.2, -5.06,
             -4.8, -4.51, -4.31, -4.12, -3.88, -3.82, -3.73, -3.53, -3.35, -3.14, -2.9, -2.65,
             -2.45, -2.22, -2.06, -1.86, -1.8, -1.8, -1.76, -1.57, -1.18, -0.78, -0.49, -0.2, 0.1, 0.39, 0.78, 1.27, 1.67, 1.8,
             2.2, 3.1, 4.1, 5.3, 6.06,
             7.11, 8.09, 9.19, 10.2, 10.6, 11.29, 12.17, 13.11, 14.22, 15.25, 16.13, 17.01, 18.04, 19.21, 20.15, 21.2]

ma250_day = [0, 4, 10, 17, 23, 30, 34, 39, 42, 49, 56, 63, 69, 76, 79, 81, 88, 91, 98, 105, 112, 115, 118, 124, 130, 137,
             144, 151, 157, 164, 170, 178, 185, 193, 200, 208, 215, 221, 226, 231]
ma250_val = [-6.41, -6.33, -6.43, -6.57, -6.76, -6.9, -6.8, -6.7, -6.67, -6.63, -6.47, -6.33, -6.18, -5.92, -5.84, -5.78,
             -5.69, -5.55, -5.49, -5.43, -5.39, -5.29, -5.29, -5.0, -4.55, -4.12, -3.63, -2.94, -2.39, -1.7, -0.95, 0.3,
             1.45, 2.75, 3.9, 5.15, 6.25, 7.3, 8.42, 9.09]

axis_ticks = [50, 45, 40, 35, 30, 25, 20, 15, 10, 5, 0, -5, -10]

BG = '#171717'
UP = '#ff5a4e'
DOWN = '#00ffff'
IDX = '#ff00ff'
W, H = 2313, 1229
PX = 72.0 / 100  # one pixel in points

fig = plt.figure(figsize=(W / 100, H / 100), dpi=100)
fig.patch.set_facecolor(BG)
ax = fig.add_axes([0, 24 / H, 2256 / W, 1183 / H])
ax.set_facecolor(BG)
ax.set_xlim(-0.587, 231.63)
ax.set_ylim(-14.81, 54.78)
ax.axis('off')

for v in axis_ticks:
    ax.axhline(v, color='#3c3c3c', lw=PX, ls=(0, (1, 3)), zorder=0)


def candles(o, h, l, c, z, up_col, dn_col, eq_col, width=0.64):
    o, h, l, c = map(np.asarray, (o, h, l, c))
    x = np.arange(len(o))
    up = c > o
    dn = c < o
    eq = c == o
    wick_cols = np.where(up, up_col, np.where(dn, dn_col, eq_col))
    ax.vlines(x, l, h, colors=list(wick_cols), lw=PX, zorder=z, antialiased=False)
    bot = np.minimum(o, c)
    hgt = np.abs(c - o)
    ax.bar(x[up], hgt[up], width, bottom=bot[up], facecolor=BG, edgecolor=up_col,
           lw=PX * 1.1, zorder=z + 1, antialiased=False)
    ax.bar(x[dn], hgt[dn], width, bottom=bot[dn], facecolor=dn_col, edgecolor=dn_col,
           lw=PX * 1.1, zorder=z + 1, antialiased=False)
    ax.hlines(o[eq], x[eq] - width / 2, x[eq] + width / 2, colors=eq_col, lw=PX * 1.5,
              zorder=z + 1, antialiased=False)


candles(idx_o, idx_h, idx_l, idx_c, 2, IDX, IDX, IDX)
candles(main_o, main_h, main_l, main_c, 4, UP, DOWN, '#ffffff')

ma_lines = [(ma250_day, ma250_val, '#ffff8c'), (ma120_day, ma120_val, '#00c8f0'),
            (ma60_day, ma60_val, '#c4c4c4'), (ma30_day, ma30_val, '#00ff00'),
            (ma20_day, ma20_val, '#ff00ff'), (ma10_day, ma10_val, '#ffff00'),
            (ma5_day, ma5_val, '#ffffff')]
for d, v, col in ma_lines:
    ax.plot(d, v, color=col, lw=1.0, zorder=8)

# right axis labels
tr = blended_transform_factory(ax.transAxes, ax.transData)
for v in axis_ticks:
    col = '#39d139' if v < 0 else '#8c8c8c'
    ax.text(2303 / 2256, v, '%.2f' % v, transform=tr, ha='right', va='center',
            color=col, fontsize=8, family='DejaVu Sans Mono', clip_on=False)

# high / low markers
marks = [(226, 53.43, 227.7, 53.0, '9.18', '#f0f0f0'),
         (176, 43.96, 177.2, 43.9, '8.60', '#a8a8a8'),
         (203, 22.05, 204.2, 21.96, '7.30', '#a8a8a8'),
         (12, -13.78, 13.6, -13.57, '5.15', '#f0f0f0')]
for xi, yi, xt, yt, s, col in marks:
    ax.annotate(s, xy=(xi, yi), xytext=(xt, yt), color=col, fontsize=8,
                family='DejaVu Sans Mono', ha='left', va='center', zorder=12,
                arrowprops=dict(arrowstyle='-|>', color=col, lw=0.8, shrinkA=0, shrinkB=0,
                                mutation_scale=5))

# frame lines
fig.add_artist(plt.Line2D([0, 2246 / W], [1 - 22 / H, 1 - 22 / H], color='#333333', lw=1))
fig.add_artist(plt.Line2D([2256 / W, 2256 / W], [24 / H, 1], color='#2e2e2e', lw=1))
fig.add_artist(plt.Line2D([0, 1], [24 / H, 24 / H], color='#333333', lw=1))
fig.add_artist(plt.Line2D([0, 1], [5 / H, 5 / H], color='#2a2a2a', lw=1))
fig.add_artist(Rectangle((2309 / W, 1 - 687 / H), 4 / W, 122 / H, color='#4a4a4a'))
fig.add_artist(Rectangle((3 / W, 1 - 1222 / H), 13 / W, 14 / H, facecolor='none', edgecolor='#555555', lw=0.8))
fig.text(9.5 / W, 1 - 1215 / H, '«', color='#9a9a9a', fontsize=9, ha='center', va='center')
fig.add_artist(Rectangle((2294 / W, 1 - 1221 / H), 14 / W, 14 / H, facecolor='none', edgecolor='#555555', lw=0.8))
fig.text(2301 / W, 1 - 1214 / H, '»', color='#9a9a9a', fontsize=9, ha='center', va='center')

# header
hy = 1 - 11 / H
cjk = ['Noto Sans CJK SC', 'DejaVu Sans']
mono = ['DejaVu Sans Mono', 'Noto Sans CJK SC']
fig.text(4 / W, hy, '星期六', color='#e6dc9c', fontsize=9.5, family=cjk, va='center')
fig.text(46 / W, hy, '（日线,不复权）', color='#8c8c8c', fontsize=9, family=cjk, va='center')
fig.add_artist(FancyBboxPatch((136 / W, 1 - 19 / H), 11 / W, 15 / H, boxstyle='round,pad=0,rounding_size=0.002',
                              facecolor='none', edgecolor='#6a6a6a', lw=0.8))
fig.text(141.5 / W, hy, '?', color='#9a9a9a', fontsize=8, family=mono, ha='center', va='center')
fig.text(152 / W, hy, 'MA', color='#8c8c8c', fontsize=7.5, family=mono, va='center')
header = [(172, 'MA5:26.13', '↑', '#e8e8e8'), (245, 'MA10:24.32', '↑', '#ffff00'),
          (323, 'MA20:22.59', '↑', '#ff00ff'), (403, 'MA30:21.48', '↑', '#00ff00'),
          (482, 'MA60:22.41', '↓', '#c8c8c8'), (561, 'MA120:22.61', '↑', '#00e0ff'),
          (646, 'MA250:13.74', '↑', '#ffff99')]
for x0, s, arr, col in header:
    fig.text(x0 / W, hy, s, color=col, fontsize=7.5, family=mono, va='center')
    fig.text((x0 + len(s) * 6.27 + 8) / W, hy, arr, color=col, fontsize=10.5, family=cjk,
             ha='center', va='center')
fig.text(732 / W, hy, '中小板指', color='#ff00ff', fontsize=9.5, family=cjk, va='center')
fig.text(2186 / W, hy, '设置均线', color='#8c8c8c', fontsize=9, family=cjk, va='center')
fig.text(2243 / W, hy, '▾', color='#8c8c8c', fontsize=7, family=['DejaVu Sans'], va='center')

fig.savefig('out.png', dpi=100, facecolor=BG)
